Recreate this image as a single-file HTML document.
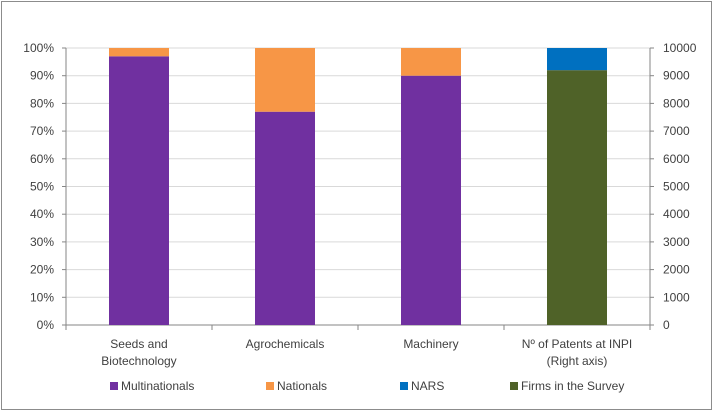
<!DOCTYPE html>
<html><head><style>
body{margin:0;background:#fff}
svg text{font-family:"Liberation Sans",sans-serif;font-size:12px;fill:#404040}
</style></head><body>
<svg width="713" height="412">
<rect x="1.5" y="1.5" width="710" height="408" fill="#fff" stroke="#8c8c8c"/>
<g id="grid"></g><g id="bars"></g><g id="axes"></g>
<g>
<rect x="110" y="382" width="8" height="8" fill="#7030a0"/>
<text x="121" y="390">Multinationals</text>
<rect x="266" y="382" width="8" height="8" fill="#f79646"/>
<text x="277" y="390">Nationals</text>
<rect x="400" y="382" width="8" height="8" fill="#0070c0"/>
<text x="411" y="390">NARS</text>
<rect x="510" y="382" width="8" height="8" fill="#4f6228"/>
<text x="521" y="390">Firms in the Survey</text>
</g>
</svg>
<script>
const categories=[["Seeds and","Biotechnology"],["Agrochemicals"],["Machinery"],["Nº of Patents at INPI","(Right axis)"]];
const multinationals=[97,77,90,null];
const nationals=[3,23,10,null];
const firms=[null,null,null,9200];
const nars=[null,null,null,800];
const leftTicks=[0,10,20,30,40,50,60,70,80,90,100];
const rightTicks=[0,1000,2000,3000,4000,5000,6000,7000,8000,9000,10000];
const NS="http://www.w3.org/2000/svg";
const X0=66,X1=650,Y0=325,Y1=48,catW=146,barW=60;
const yL=v=>Y0-(v/100)*(Y0-Y1);
const yR=v=>Y0-(v/10000)*(Y0-Y1);
const cx=i=>X0+catW*(i+0.5);
function mk(t,a,p){const e=document.createElementNS(NS,t);for(const k in a)e.setAttribute(k,a[k]);p.appendChild(e);return e;}
const grid=document.getElementById('grid'),bars=document.getElementById('bars'),axes=document.getElementById('axes');
leftTicks.forEach(v=>{const l=mk('line',{x1:X0,x2:X1,y1:yL(v),y2:yL(v),stroke:v==0?'#868686':'#d9d9d9'},grid);

const t=mk('text',{x:X0-12,y:yL(v)+4,'text-anchor':'end'},axes);t.textContent=v+'%';

mk('line',{x1:X0-4,x2:X0,y1:yL(v),y2:yL(v),stroke:'#868686'},axes);});
rightTicks.forEach(v=>{const t=mk('text',{x:X1+13,y:yR(v)+4},axes);t.textContent=v;

mk('line',{x1:X1,x2:X1+4,y1:yR(v),y2:yR(v),stroke:'#868686'},axes);});
mk('line',{x1:X0,x2:X0,y1:Y1,y2:Y0,stroke:'#868686'},axes);
mk('line',{x1:X1,x2:X1,y1:Y1,y2:Y0,stroke:'#868686'},axes);
for(let i=0;i<=4;i++)mk('line',{x1:X0+catW*i,x2:X0+catW*i,y1:Y0,y2:Y0+5,stroke:'#868686'},axes);
function bar(i,b,tp,sc,col,name){const y0=sc(b),y1=sc(b+tp);const r=mk('rect',{x:cx(i)-barW/2,y:y1,width:barW,height:y0-y1,fill:col},bars);
}
categories.forEach((c,i)=>{
if(multinationals[i]!=null){bar(i,0,multinationals[i],yL,'#7030a0','bar-multinationals');bar(i,multinationals[i],nationals[i],yL,'#f79646','bar-nationals');}
if(firms[i]!=null){bar(i,0,firms[i],yR,'#4f6228','bar-firms');bar(i,firms[i],nars[i],yR,'#0070c0','bar-nars');}
c.forEach((s,j)=>{const t=mk('text',{x:cx(i),y:348+j*17,'text-anchor':'middle'},axes);t.textContent=s;
});
});
</script>
</body></html>
